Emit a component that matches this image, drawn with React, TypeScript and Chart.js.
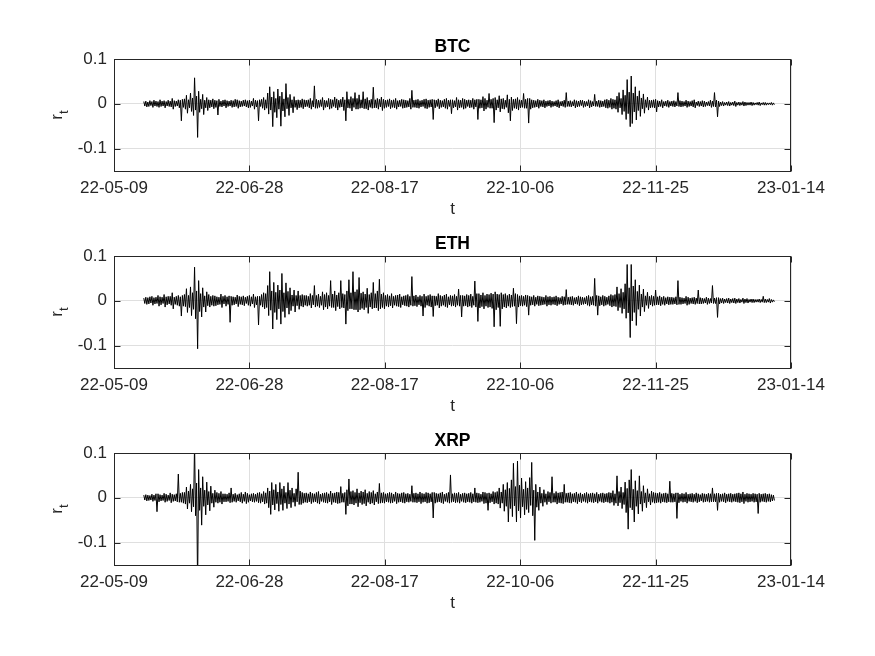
import React, { useEffect, useRef } from 'react';
import { Chart, registerables } from 'chart.js';

Chart.register(...registerables);

// ---- data -------------------------------------------------------------
const seriesNames = ['BTC', 'ETH', 'XRP'];
// x axis: days since 2022-05-09, tick every 50 days
const baseDateUTC = Date.UTC(2022, 4, 9);
const xMinDay = 0;
const xMaxDay = 250;
const xTickDays = [0, 50, 100, 150, 200, 250];
// y axis
const yMin = -0.15;
const yMax = 0.1;
const yTickValues = [-0.1, 0, 0.1];
// sampling: one bin every 0.75 day starting at day 11; each bin has a high and a low return
const firstSampleDay = 11;
const sampleStepDays = 0.75;

// returns r_t in thousandths (value / 1000 = r_t): per-bin highs and lows
const btcHighPermille = [
  5, 6, 4, 7, 5, 8, 6, 5, 9, 6, 7, 5, 8, 6, 12, 7, 6, 9, 8, 10,
  11, 19, 9, 24, 13, 58, 17, 28, 10, 21, 8, 14, 9, 8, 11, 8, 7, 10, 6, 8,
  9, 7, 6, 8, 7, 10, 9, 7, 6, 8, 9, 7, 8, 6, 12, 8, 7, 9, 10, 14,
  9, 24, 38, 15, 27, 12, 33, 17, 26, 11, 45, 14, 21, 9, 16, 8, 9, 8, 11, 9,
  8, 9, 12, 7, 40, 10, 8, 9, 14, 8, 7, 12, 10, 9, 15, 11, 8, 10, 15, 9,
  27, 10, 16, 12, 25, 12, 20, 9, 27, 11, 14, 8, 10, 37, 9, 12, 10, 15, 10, 8,
  9, 11, 8, 9, 12, 7, 8, 10, 9, 8, 7, 12, 30, 8, 9, 10, 7, 8, 10, 11,
  8, 9, 10, 9, 8, 11, 8, 7, 10, 12, 8, 9, 9, 7, 14, 9, 8, 12, 10, 8,
  9, 8, 12, 9, 10, 10, 9, 16, 12, 8, 23, 10, 12, 14, 9, 18, 11, 12, 8, 20,
  10, 15, 10, 11, 14, 9, 8, 23, 10, 12, 12, 9, 8, 7, 10, 8, 7, 9, 6, 7,
  8, 6, 5, 7, 9, 5, 6, 8, 25, 6, 7, 5, 9, 7, 6, 8, 8, 6, 5, 9,
  7, 5, 21, 6, 8, 7, 6, 9, 10, 8, 12, 10, 9, 17, 25, 12, 31, 19, 54, 26,
  62, 24, 38, 17, 29, 13, 22, 9, 15, 8, 8, 9, 10, 7, 6, 9, 5, 6, 8, 5,
  6, 7, 5, 25, 7, 6, 5, 8, 6, 5, 7, 9, 4, 6, 5, 7, 6, 4, 5, 8,
  6, 25, 8, 6, 4, 5, 3, 4, 5, 3, 4, 6, 3, 4, 3, 5, 4, 3, 3, 4,
  3, 2, 3, 4, 2, 3, 3, 2, 2, 3, 2,
];
const btcLowPermille = [
  -5, -7, -6, -4, -8, -5, -6, -8, -6, -5, -9, -5, -6, -7, -12, -6, -5, -9, -38, -8,
  -12, -21, -9, -17, -26, -14, -75, -19, -11, -24, -9, -15, -9, -7, -11, -8, -25, -6, -7, -5,
  -9, -6, -5, -8, -7, -6, -10, -7, -6, -5, -7, -9, -8, -5, -12, -7, -38, -6, -10, -14,
  -10, -23, -14, -51, -19, -31, -12, -50, -16, -29, -11, -26, -9, -20, -8, -13, -9, -8, -11, -7,
  -6, -9, -12, -7, -10, -10, -8, -6, -14, -8, -7, -12, -10, -6, -9, -14, -8, -7, -15, -38,
  -9, -10, -16, -8, -12, -12, -10, -9, -11, -11, -14, -8, -10, -9, -9, -12, -7, -15, -10, -8,
  -6, -11, -8, -9, -12, -7, -6, -10, -9, -8, -7, -12, -8, -8, -9, -10, -7, -6, -10, -11,
  -8, -7, -35, -9, -6, -11, -8, -7, -10, -12, -6, -22, -9, -7, -14, -9, -8, -12, -10, -6,
  -9, -8, -12, -7, -35, -10, -9, -16, -12, -8, -10, -10, -42, -14, -9, -18, -11, -12, -8, -20,
  -38, -15, -10, -11, -14, -9, -8, -10, -10, -43, -12, -9, -8, -7, -10, -6, -7, -9, -6, -5,
  -8, -6, -5, -7, -9, -5, -6, -8, -6, -6, -7, -5, -9, -7, -6, -4, -8, -6, -5, -9,
  -7, -5, -6, -6, -8, -7, -6, -9, -10, -8, -12, -10, -12, -19, -9, -24, -17, -35, -22, -51,
  -44, -18, -36, -15, -28, -11, -21, -8, -14, -9, -8, -9, -18, -7, -6, -9, -5, -6, -8, -5,
  -6, -7, -5, -6, -7, -6, -5, -8, -6, -5, -7, -9, -4, -6, -5, -7, -6, -4, -5, -8,
  -6, -7, -29, -6, -4, -5, -3, -4, -5, -3, -4, -6, -3, -4, -3, -5, -4, -3, -3, -4,
  -3, -2, -3, -4, -2, -3, -3, -2, -2, -3, -2,
];

const ethHighPermille = [
  6, 8, 7, 9, 10, 7, 8, 12, 9, 8, 14, 9, 10, 10, 18, 8, 10, 12, 9, 12,
  14, 27, 12, 31, 18, 75, 22, 45, 16, 29, 11, 20, 14, 10, 12, 11, 9, 8, 15, 10,
  12, 9, 11, 10, 9, 8, 13, 10, 9, 11, 8, 10, 12, 9, 15, 9, 10, 10, 14, 18,
  16, 34, 65, 22, 41, 19, 35, 24, 61, 18, 40, 21, 29, 13, 24, 12, 22, 12, 14, 12,
  12, 10, 16, 12, 34, 12, 15, 10, 20, 14, 18, 12, 45, 15, 22, 13, 18, 45, 16, 14,
  22, 47, 18, 65, 20, 25, 52, 17, 20, 15, 28, 14, 18, 41, 16, 22, 48, 15, 18, 12,
  14, 11, 16, 10, 12, 13, 15, 9, 11, 12, 14, 10, 54, 11, 13, 9, 12, 10, 15, 10,
  12, 14, 11, 11, 10, 16, 12, 10, 13, 15, 9, 12, 11, 14, 10, 26, 12, 12, 11, 14,
  12, 15, 10, 44, 16, 16, 13, 18, 12, 15, 14, 17, 15, 20, 15, 14, 18, 14, 16, 12,
  15, 13, 28, 16, 14, 11, 12, 10, 13, 12, 10, 9, 12, 8, 11, 10, 9, 8, 12, 9,
  10, 8, 9, 11, 8, 7, 10, 9, 25, 8, 9, 10, 7, 8, 11, 9, 8, 7, 10, 12,
  9, 10, 50, 12, 11, 9, 12, 10, 8, 11, 14, 12, 14, 31, 16, 27, 19, 38, 81, 29,
  81, 33, 47, 21, 35, 15, 26, 11, 19, 10, 12, 10, 24, 9, 11, 8, 10, 7, 9, 8,
  8, 7, 9, 45, 8, 7, 6, 10, 8, 6, 7, 8, 6, 24, 7, 6, 5, 8, 6, 5,
  34, 6, 7, 7, 5, 6, 4, 5, 6, 4, 5, 6, 4, 5, 3, 6, 4, 5, 3, 4,
  4, 3, 3, 4, 3, 10, 4, 3, 5, 3, 2,
];
const ethLowPermille = [
  -6, -8, -7, -5, -10, -7, -6, -12, -9, -6, -14, -9, -7, -10, -18, -8, -10, -12, -34, -12,
  -13, -26, -15, -33, -19, -40, -107, -24, -36, -14, -25, -11, -14, -10, -12, -11, -9, -8, -15, -7,
  -12, -8, -48, -10, -9, -7, -13, -8, -9, -11, -6, -10, -12, -7, -15, -9, -54, -10, -14, -18,
  -15, -33, -21, -63, -26, -42, -18, -52, -24, -37, -16, -30, -22, -12, -25, -11, -19, -12, -14, -10,
  -12, -10, -16, -9, -14, -12, -15, -10, -20, -14, -18, -12, -15, -15, -22, -13, -18, -15, -16, -52,
  -22, -18, -18, -20, -20, -25, -20, -17, -20, -15, -28, -14, -18, -16, -16, -22, -18, -15, -18, -12,
  -14, -11, -16, -10, -12, -13, -15, -9, -11, -12, -14, -10, -12, -11, -13, -9, -12, -34, -15, -10,
  -12, -14, -35, -11, -10, -16, -12, -10, -13, -15, -9, -12, -11, -14, -10, -12, -36, -12, -11, -14,
  -12, -15, -10, -14, -46, -16, -13, -18, -12, -15, -14, -17, -58, -20, -15, -57, -18, -14, -16, -12,
  -15, -13, -12, -51, -14, -11, -12, -10, -13, -32, -10, -9, -12, -8, -11, -10, -9, -8, -12, -9,
  -10, -8, -9, -11, -8, -7, -10, -9, -8, -8, -9, -10, -7, -8, -11, -9, -8, -7, -10, -12,
  -9, -10, -12, -32, -11, -9, -12, -10, -8, -11, -14, -12, -13, -22, -15, -28, -18, -39, -27, -82,
  -45, -26, -55, -19, -34, -14, -24, -10, -17, -9, -12, -10, -9, -9, -11, -8, -10, -7, -9, -8,
  -8, -7, -9, -8, -8, -7, -6, -10, -8, -6, -7, -8, -6, -7, -7, -6, -5, -8, -6, -5,
  -6, -6, -37, -7, -5, -6, -4, -5, -6, -4, -5, -6, -4, -5, -3, -6, -4, -5, -3, -4,
  -4, -3, -3, -4, -3, -4, -4, -3, -5, -3, -2,
];

const xrpHighPermille = [
  6, 7, 6, 5, 8, 6, 9, 9, 7, 6, 10, 8, 6, 11, 8, 7, 9, 53, 10, 12,
  12, 24, 15, 30, 20, 120, 33, 63, 22, 47, 17, 35, 14, 26, 10, 17, 12, 10, 14, 9,
  9, 8, 11, 22, 8, 10, 7, 9, 12, 8, 13, 10, 7, 9, 10, 8, 11, 12, 9, 14,
  11, 22, 15, 34, 18, 30, 13, 34, 20, 26, 12, 34, 17, 22, 10, 20, 57, 15, 12, 10,
  11, 9, 13, 10, 9, 12, 14, 8, 10, 11, 12, 9, 15, 10, 11, 13, 12, 25, 10, 12,
  18, 42, 14, 16, 12, 20, 11, 15, 13, 18, 10, 14, 12, 16, 9, 13, 32, 11, 12, 9,
  10, 12, 11, 8, 13, 10, 9, 11, 12, 9, 10, 8, 27, 10, 11, 9, 13, 10, 9, 12,
  11, 9, 12, 12, 10, 9, 11, 13, 8, 10, 12, 51, 9, 11, 10, 12, 8, 10, 11, 9,
  10, 12, 9, 22, 11, 10, 8, 13, 12, 10, 11, 9, 14, 12, 14, 22, 13, 30, 18, 34,
  21, 40, 77, 25, 82, 28, 44, 19, 36, 22, 45, 79, 17, 30, 13, 24, 10, 18, 9, 14,
  12, 47, 10, 14, 11, 12, 13, 30, 10, 11, 12, 9, 10, 13, 9, 11, 8, 10, 12, 9,
  10, 11, 9, 12, 8, 10, 11, 9, 10, 12, 11, 16, 9, 49, 14, 24, 12, 35, 21, 40,
  63, 19, 38, 16, 49, 14, 27, 11, 20, 9, 15, 12, 11, 10, 12, 9, 10, 11, 9, 37,
  10, 9, 11, 11, 8, 10, 9, 12, 8, 9, 10, 8, 11, 9, 7, 10, 9, 8, 10, 9,
  22, 9, 10, 10, 8, 9, 11, 8, 9, 10, 8, 9, 10, 11, 9, 13, 8, 10, 9, 8,
  10, 9, 8, 10, 8, 9, 10, 8, 9, 7, 6,
];
const xrpLowPermille = [
  -5, -7, -6, -5, -8, -6, -31, -9, -7, -6, -10, -8, -6, -11, -8, -7, -9, -10, -10, -12,
  -14, -25, -12, -31, -20, -40, -200, -28, -61, -19, -38, -16, -29, -12, -21, -10, -12, -10, -14, -9,
  -9, -8, -11, -10, -8, -10, -7, -9, -12, -8, -13, -10, -7, -9, -10, -8, -11, -12, -9, -14,
  -12, -22, -37, -16, -27, -13, -30, -15, -28, -12, -24, -14, -22, -10, -19, -9, -15, -15, -12, -10,
  -11, -9, -13, -10, -9, -12, -14, -8, -10, -11, -12, -9, -15, -10, -11, -13, -12, -10, -10, -37,
  -18, -14, -14, -16, -12, -20, -11, -15, -13, -18, -10, -14, -12, -16, -9, -13, -12, -11, -12, -9,
  -10, -12, -11, -8, -13, -10, -9, -11, -12, -9, -10, -8, -10, -10, -11, -9, -13, -10, -9, -12,
  -11, -9, -45, -12, -10, -9, -11, -13, -8, -10, -12, -10, -9, -11, -10, -12, -8, -10, -11, -9,
  -10, -12, -9, -10, -11, -10, -8, -13, -12, -28, -11, -9, -14, -12, -14, -23, -12, -30, -19, -54,
  -24, -42, -18, -54, -29, -45, -20, -38, -26, -33, -17, -40, -95, -21, -28, -12, -19, -10, -15, -9,
  -12, -10, -10, -14, -11, -12, -13, -10, -10, -11, -12, -9, -10, -13, -9, -11, -8, -10, -12, -9,
  -10, -11, -9, -12, -8, -10, -11, -9, -10, -12, -10, -17, -12, -18, -11, -24, -15, -33, -70, -22,
  -27, -54, -19, -36, -14, -30, -11, -22, -9, -16, -10, -12, -11, -10, -12, -9, -10, -11, -9, -10,
  -10, -9, -46, -11, -8, -10, -9, -12, -8, -9, -10, -8, -11, -9, -7, -10, -9, -8, -10, -9,
  -9, -9, -28, -10, -8, -9, -11, -8, -9, -10, -8, -9, -10, -11, -9, -13, -8, -10, -9, -8,
  -10, -9, -35, -10, -8, -9, -10, -8, -9, -7, -6,
];

const seriesHighs = [btcHighPermille, ethHighPermille, xrpHighPermille];
const seriesLows = [btcLowPermille, ethLowPermille, xrpLowPermille];

// ---- styling ----------------------------------------------------------
const FONT = '"Liberation Sans", Arial, Helvetica, sans-serif';
const AXIS_COLOR = '#262626';
const GRID_COLOR = '#dfdfdf';
const CANVAS_W = 875;
const CANVAS_H = 230;
const PANEL_OFFSETS = [0, 197, 394];

function formatDay(day: number): string {
  const d = new Date(baseDateUTC + day * 86400000);
  const yy = String(d.getUTCFullYear() % 100).padStart(2, '0');
  const mm = String(d.getUTCMonth() + 1).padStart(2, '0');
  const dd = String(d.getUTCDate()).padStart(2, '0');
  return `${yy}-${mm}-${dd}`;
}

function Panel({ name, highs, lows, top }: { name: string; highs: number[]; lows: number[]; top: number }) {
  const ref = useRef<HTMLCanvasElement | null>(null);

  useEffect(() => {
    const canvas = ref.current;
    if (!canvas) return;
    const points: { x: number; y: number }[] = [];
    highs.forEach((hi, i) => {
      const t = firstSampleDay + i * sampleStepDays;
      points.push({ x: t, y: hi / 1000 });
      points.push({ x: t + sampleStepDays / 2, y: lows[i] / 1000 });
    });

    const framePlugin = {
      id: 'matlabFrame',
      afterDatasetsDraw(chart: any) {
        const { ctx, chartArea, scales } = chart;
        const L = Math.round(chartArea.left) + 0.5;
        const R = Math.round(chartArea.right) - 0.5;
        const T = Math.round(chartArea.top) + 0.5;
        const B = Math.round(chartArea.bottom) + 0.5;
        ctx.save();
        ctx.strokeStyle = AXIS_COLOR;
        ctx.lineWidth = 1;
        ctx.beginPath();
        const tl = 6;
        xTickDays.forEach((d) => {
          const px = Math.round(scales.x.getPixelForValue(d)) + 0.5;
          ctx.moveTo(px, B);
          ctx.lineTo(px, B - tl);
          ctx.moveTo(px, T);
          ctx.lineTo(px, T + tl);
        });
        yTickValues.forEach((v) => {
          const py = Math.round(scales.y.getPixelForValue(v)) + 0.5;
          ctx.moveTo(L, py);
          ctx.lineTo(L + tl, py);
          ctx.moveTo(R, py);
          ctx.lineTo(R - tl, py);
        });
        ctx.stroke();
        ctx.strokeRect(L, T, R - L, B - T);
        ctx.restore();
      },
      afterDraw(chart: any) {
        const { ctx, chartArea } = chart;
        const cx = (chartArea.left + chartArea.right) / 2;
        const cy = (chartArea.top + chartArea.bottom) / 2;
        ctx.save();
        ctx.fillStyle = '#000';
        ctx.font = `bold 17.5px ${FONT}`;
        ctx.textAlign = 'center';
        ctx.textBaseline = 'alphabetic';
        ctx.fillText(name, cx, chartArea.top - 7.5);
        ctx.fillStyle = AXIS_COLOR;
        ctx.font = `17px ${FONT}`;
        ctx.fillText('t', cx, chartArea.bottom + 43);
        ctx.translate(62, cy);
        ctx.rotate(-Math.PI / 2);
        ctx.textAlign = 'left';
        ctx.font = `17px ${FONT}`;
        const wr = ctx.measureText('r').width;
        ctx.font = `13px ${FONT}`;
        const wt = ctx.measureText('t').width;
        const x0 = -(wr + wt) / 2;
        ctx.font = `17px ${FONT}`;
        ctx.fillText('r', x0, 0);
        ctx.font = `13px ${FONT}`;
        ctx.fillText('t', x0 + wr, 6);
        ctx.restore();
      },
    };

    const chart = new Chart(canvas, {
      type: 'line',
      data: {
        datasets: [
          {
            label: name,
            data: points,
            borderColor: '#000000',
            borderWidth: 1,
            pointRadius: 0,
            fill: false,
            tension: 0,
          },
        ],
      },
      options: {
        animation: false,
        responsive: false,
        devicePixelRatio: 1,
        events: [],
        layout: { padding: { left: 0, right: 84, top: 59, bottom: 19 } },
        plugins: { legend: { display: false }, tooltip: { enabled: false }, title: { display: false } },
        scales: {
          x: {
            type: 'linear',
            min: xMinDay,
            max: xMaxDay,
            afterBuildTicks: (s: any) => {
              s.ticks = xTickDays.map((v) => ({ value: v }));
            },
            afterFit: (s: any) => {
              s.height = 40;
            },
            grid: { color: GRID_COLOR, lineWidth: 1, drawTicks: false },
            border: { display: false },
            ticks: {
              autoSkip: false,
              maxRotation: 0,
              padding: 7,
              color: AXIS_COLOR,
              font: { family: FONT, size: 17 },
              callback: (v: any) => formatDay(Number(v)),
            },
          },
          y: {
            type: 'linear',
            min: yMin,
            max: yMax,
            afterBuildTicks: (s: any) => {
              s.ticks = yTickValues.map((v) => ({ value: v }));
            },
            afterFit: (s: any) => {
              s.width = 114;
            },
            grid: { color: GRID_COLOR, lineWidth: 1, drawTicks: false },
            border: { display: false },
            ticks: {
              padding: 7,
              color: AXIS_COLOR,
              font: { family: FONT, size: 17 },
              callback: (v: any) => (Number(v) === 0 ? '0' : String(Number(v))),
            },
          },
        },
      },
      plugins: [framePlugin],
    } as any);

    return () => chart.destroy();
  }, [name, highs, lows]);

  return (
    <canvas
      ref={ref}
      width={CANVAS_W}
      height={CANVAS_H}
      style={{ position: 'absolute', left: 0, top, width: CANVAS_W, height: CANVAS_H }}
    />
  );
}

export default function App() {
  return (
    <div
      style={{
        position: 'absolute',
        left: 0,
        top: 0,
        width: CANVAS_W,
        height: 656,
        background: '#ffffff',
        overflow: 'hidden',
      }}
    >
      {seriesNames.map((n, i) => (
        <Panel key={n} name={n} highs={seriesHighs[i]} lows={seriesLows[i]} top={PANEL_OFFSETS[i]} />
      ))}
    </div>
  );
}
